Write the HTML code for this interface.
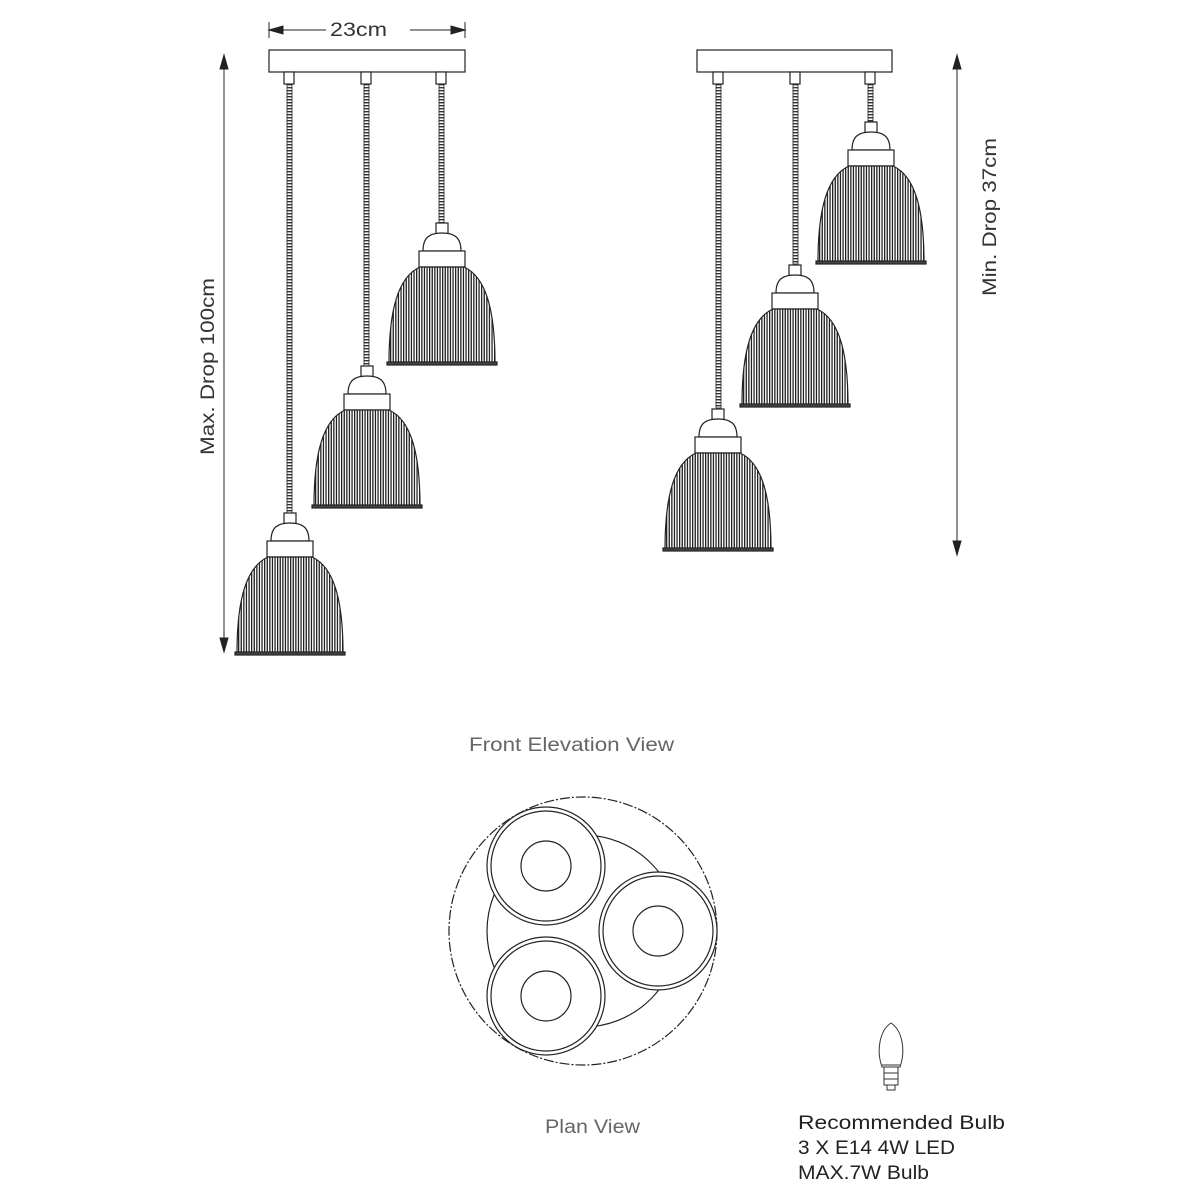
<!DOCTYPE html>
<html><head><style>
html,body{margin:0;padding:0;background:#fff;}
svg{display:block}
text{font-family:"Liberation Sans",sans-serif;}
</style></head><body>
<svg width="1200" height="1200" viewBox="0 0 1200 1200" xmlns="http://www.w3.org/2000/svg">
<defs>
<pattern id="st" width="2.6" height="10" patternUnits="userSpaceOnUse">
<rect width="2.6" height="10" fill="#fff"/><rect width="1.3" height="10" fill="#222"/>
</pattern>
<pattern id="cord" width="4" height="3" patternUnits="userSpaceOnUse">
<rect width="4" height="3" fill="#fff"/><rect width="4" height="1.4" fill="#333"/>
</pattern>
<g id="lamp" stroke="#222" stroke-width="1.2">
<rect x="-6" y="-142" width="12" height="12" fill="#fff"/>
<path d="M-19,-114 C-19,-128 -12,-132 0,-132 C12,-132 19,-128 19,-114 Z" fill="#fff"/>
<rect x="-23" y="-114" width="46" height="16" fill="#fff"/>
<path d="M-22,-98 C-44,-88 -53,-55 -53,-2 L53,-2 C53,-55 44,-88 22,-98 Z" fill="url(#st)"/>
<rect x="-55" y="-3" width="110" height="3" fill="#444"/>
</g>
</defs>
<g fill="none" stroke="#222" stroke-width="1.2">
<rect x="269" y="50" width="196" height="22" fill="#fff"/>
<rect x="284" y="72" width="10" height="12" fill="#fff"/>
<rect x="361" y="72" width="10" height="12" fill="#fff"/>
<rect x="436" y="72" width="10" height="12" fill="#fff"/>
<rect x="697" y="50" width="195" height="22" fill="#fff"/>
<rect x="713" y="72" width="10" height="12" fill="#fff"/>
<rect x="790" y="72" width="10" height="12" fill="#fff"/>
<rect x="865" y="72" width="10" height="12" fill="#fff"/>
</g>
<g stroke="#222" stroke-width="0.8" fill="url(#cord)">
<rect x="287" y="84" width="5" height="430"/>
<rect x="364" y="84" width="5" height="284"/>
<rect x="439" y="84" width="5" height="142"/>
<rect x="716" y="84" width="5" height="324"/>
<rect x="793" y="84" width="5" height="180"/>
<rect x="868" y="84" width="5" height="38"/>
</g>
<use href="#lamp" x="290" y="655"/>
<use href="#lamp" x="367" y="508"/>
<use href="#lamp" x="442" y="365"/>
<use href="#lamp" x="718" y="551"/>
<use href="#lamp" x="795" y="407"/>
<use href="#lamp" x="871" y="264"/>
<g stroke="#222" stroke-width="1" fill="#222">
<line x1="269" y1="22" x2="269" y2="38"/><line x1="465" y1="22" x2="465" y2="38"/>
<line x1="269" y1="30" x2="326" y2="30"/><line x1="410" y1="30" x2="465" y2="30"/>
<path d="M269,30 l14,-4 v8z"/><path d="M465,30 l-14,-4 v8z"/>
<line x1="224" y1="55" x2="224" y2="652"/>
<path d="M224,55 l-4,14 h8z"/><path d="M224,652 l-4,-14 h8z"/>
<line x1="957" y1="55" x2="957" y2="555"/>
<path d="M957,55 l-4,14 h8z"/><path d="M957,555 l-4,-14 h8z"/>
</g>
<g fill="#333" font-size="19">
<text x="330" y="36" textLength="57" lengthAdjust="spacingAndGlyphs">23cm</text>
<text transform="translate(214,455) rotate(-90)" textLength="177" lengthAdjust="spacingAndGlyphs">Max. Drop 100cm</text>
<text transform="translate(996,296) rotate(-90)" textLength="158" lengthAdjust="spacingAndGlyphs">Min. Drop 37cm</text>
</g>
<text x="469" y="751" font-size="19" fill="#666" textLength="205" lengthAdjust="spacingAndGlyphs">Front Elevation View</text>
<g fill="none" stroke="#222" stroke-width="1.2">
<circle cx="583" cy="931" r="134" stroke-dasharray="10,2,2,2"/>
<circle cx="583" cy="931" r="96" fill="#fff"/>
<g fill="#fff">
<circle cx="546" cy="866" r="59"/><circle cx="546" cy="866" r="55"/><circle cx="546" cy="866" r="25"/>
<circle cx="658" cy="931" r="59"/><circle cx="658" cy="931" r="55"/><circle cx="658" cy="931" r="25"/>
<circle cx="546" cy="996" r="59"/><circle cx="546" cy="996" r="55"/><circle cx="546" cy="996" r="25"/>
</g>
</g>
<text x="545" y="1133" font-size="19" fill="#666" textLength="95" lengthAdjust="spacingAndGlyphs">Plan View</text>
<g fill="none" stroke="#333" stroke-width="1">
<path d="M882,1067 C876,1050 880,1030 891,1023 C902,1030 906,1050 900,1067 Z"/>
<line x1="882" y1="1065" x2="900" y2="1065"/>
<path d="M884,1067 v18 h14 v-18 M884,1073 h14 M884,1079 h14 M887,1085 v5 h8 v-5"/>
</g>
<g font-size="19.5" fill="#222">
<text x="798" y="1129" textLength="207" lengthAdjust="spacingAndGlyphs">Recommended Bulb</text>
<text x="798" y="1154" textLength="157" lengthAdjust="spacingAndGlyphs">3 X E14 4W LED</text>
<text x="798" y="1179" textLength="131" lengthAdjust="spacingAndGlyphs">MAX.7W Bulb</text>
</g>
</svg>
</body></html>
